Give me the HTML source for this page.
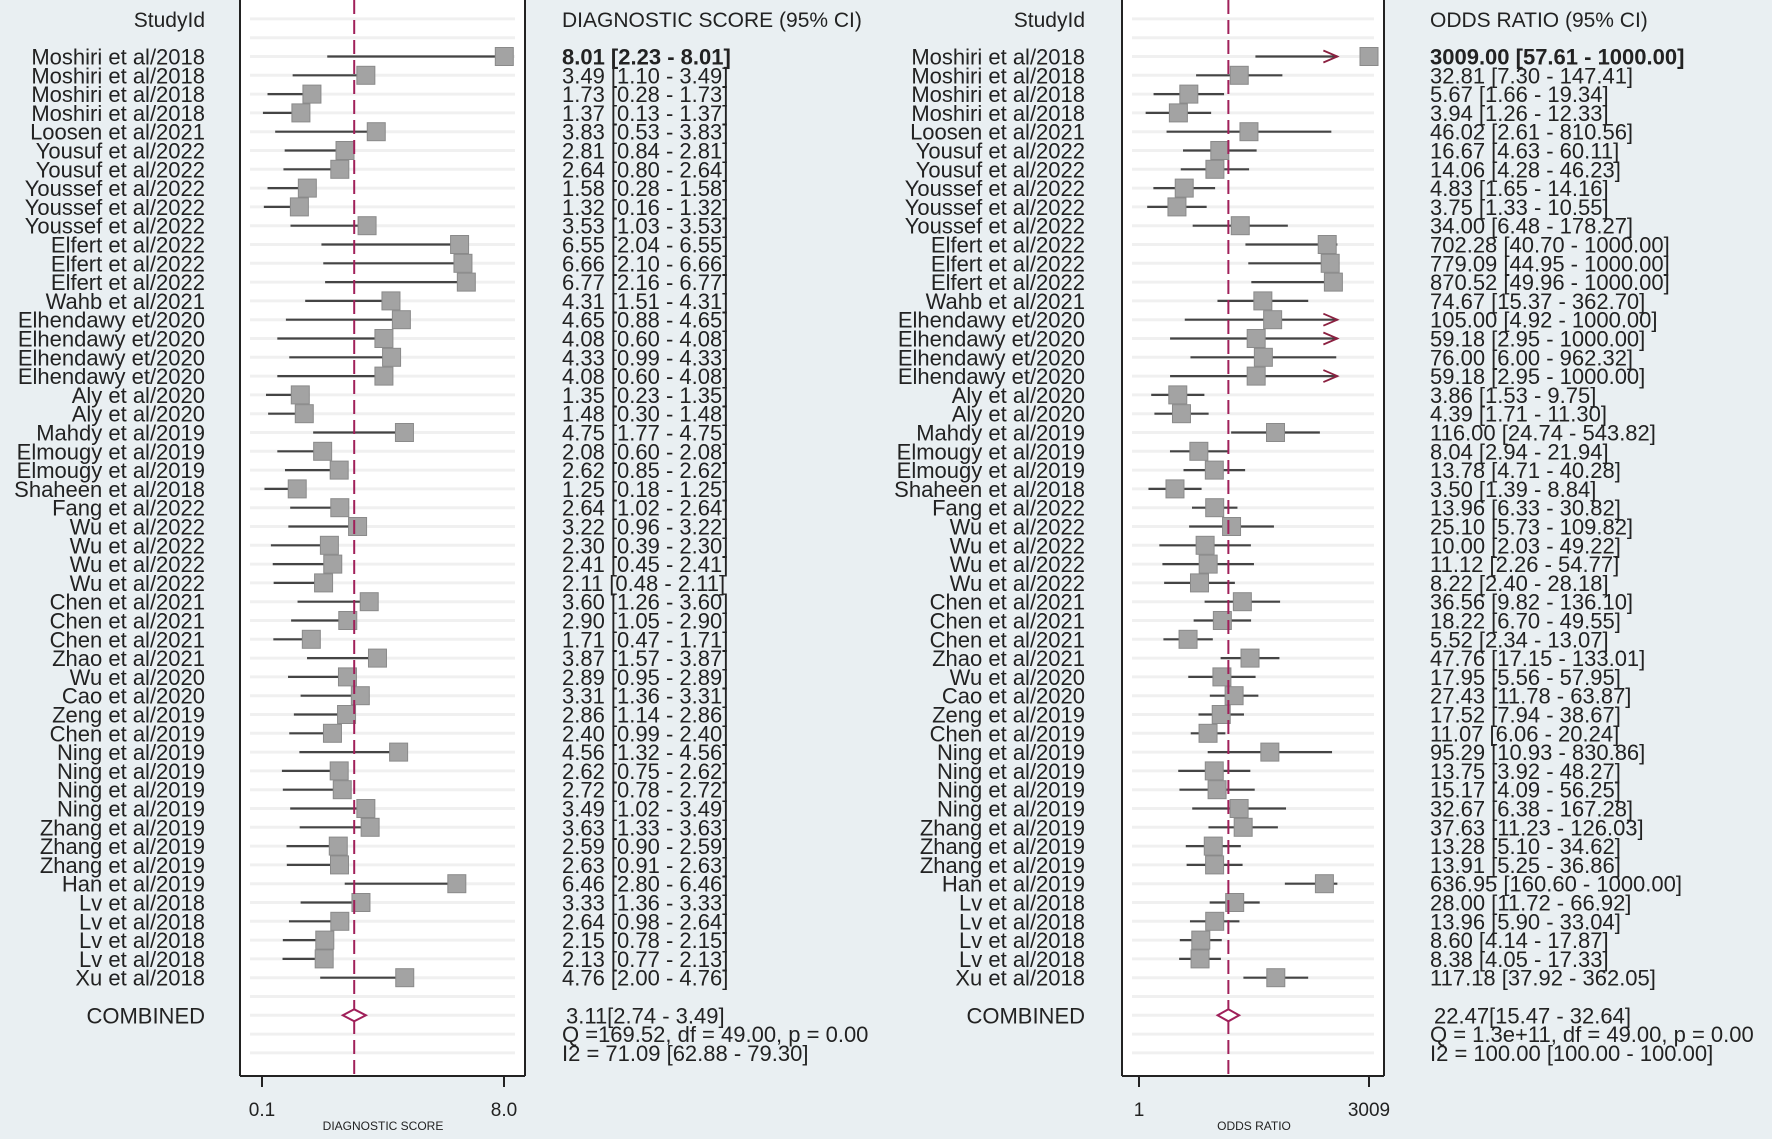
<!DOCTYPE html>
<html><head><meta charset="utf-8"><style>
html,body{margin:0;padding:0;background:#e9eff2}
svg{display:block}
text{font-family:"Liberation Sans",Arial,sans-serif;fill:#222}
</style></head><body>
<svg id="chart" width="1772" height="1139" viewBox="0 0 1772 1139" xmlns="http://www.w3.org/2000/svg">
<rect x="0" y="0" width="1772" height="1139" fill="#e9eff2"/>
</svg>
<script>
const studies=["Moshiri et al/2018","Moshiri et al/2018","Moshiri et al/2018","Moshiri et al/2018","Loosen et al/2021","Yousuf et al/2022","Yousuf et al/2022","Youssef et al/2022","Youssef et al/2022","Youssef et al/2022","Elfert et al/2022","Elfert et al/2022","Elfert et al/2022","Wahb et al/2021","Elhendawy et/2020","Elhendawy et/2020","Elhendawy et/2020","Elhendawy et/2020","Aly et al/2020","Aly et al/2020","Mahdy et al/2019","Elmougy et al/2019","Elmougy et al/2019","Shaheen et al/2018","Fang et al/2022","Wu et al/2022","Wu et al/2022","Wu et al/2022","Wu et al/2022","Chen et al/2021","Chen et al/2021","Chen et al/2021","Zhao et al/2021","Wu et al/2020","Cao et al/2020","Zeng et al/2019","Chen et al/2019","Ning et al/2019","Ning et al/2019","Ning et al/2019","Ning et al/2019","Zhang et al/2019","Zhang et al/2019","Zhang et al/2019","Han et al/2019","Lv et al/2018","Lv et al/2018","Lv et al/2018","Lv et al/2018","Xu et al/2018"];
const dsValue=[8.01,3.49,1.73,1.37,3.83,2.81,2.64,1.58,1.32,3.53,6.55,6.66,6.77,4.31,4.65,4.08,4.33,4.08,1.35,1.48,4.75,2.08,2.62,1.25,2.64,3.22,2.30,2.41,2.11,3.60,2.90,1.71,3.87,2.89,3.31,2.86,2.40,4.56,2.62,2.72,3.49,3.63,2.59,2.63,6.46,3.33,2.64,2.15,2.13,4.76];
const dsLower=[2.23,1.10,0.28,0.13,0.53,0.84,0.80,0.28,0.16,1.03,2.04,2.10,2.16,1.51,0.88,0.60,0.99,0.60,0.23,0.30,1.77,0.60,0.85,0.18,1.02,0.96,0.39,0.45,0.48,1.26,1.05,0.47,1.57,0.95,1.36,1.14,0.99,1.32,0.75,0.78,1.02,1.33,0.90,0.91,2.80,1.36,0.98,0.78,0.77,2.00];
const dsUpper=dsValue.slice();
const orValue=[3009.00,32.81,5.67,3.94,46.02,16.67,14.06,4.83,3.75,34.00,702.28,779.09,870.52,74.67,105.00,59.18,76.00,59.18,3.86,4.39,116.00,8.04,13.78,3.50,13.96,25.10,10.00,11.12,8.22,36.56,18.22,5.52,47.76,17.95,27.43,17.52,11.07,95.29,13.75,15.17,32.67,37.63,13.28,13.91,636.95,28.00,13.96,8.60,8.38,117.18];
const orLower=[57.61,7.30,1.66,1.26,2.61,4.63,4.28,1.65,1.33,6.48,40.70,44.95,49.96,15.37,4.92,2.95,6.00,2.95,1.53,1.71,24.74,2.94,4.71,1.39,6.33,5.73,2.03,2.26,2.40,9.82,6.70,2.34,17.15,5.56,11.78,7.94,6.06,10.93,3.92,4.09,6.38,11.23,5.10,5.25,160.60,11.72,5.90,4.14,4.05,37.92];
const orUpper=[1000,147.41,19.34,12.33,810.56,60.11,46.23,14.16,10.55,178.27,1000,1000,1000,362.70,1000,1000,962.32,1000,9.75,11.30,543.82,21.94,40.28,8.84,30.82,109.82,49.22,54.77,28.18,136.10,49.55,13.07,133.01,57.95,63.87,38.67,20.24,830.86,48.27,56.25,167.28,126.03,34.62,36.86,1000,66.92,33.04,17.87,17.33,362.05];
const orArrow=[1,0,0,0,0,0,0,0,0,0,0,0,0,0,1,1,0,1,0,0,0,0,0,0,0,0,0,0,0,0,0,0,0,0,0,0,0,0,0,0,0,0,0,0,0,0,0,0,0,0];
const dsCombined=[3.11,2.74,3.49];
const orCombined=[22.47,15.47,32.64];
const dsTicks=["0.1","8.0"];
const orTicks=["1","3009"];
const dsStats=["3.11[2.74 - 3.49]","Q =169.52, df = 49.00, p =  0.00","I2 = 71.09 [62.88 - 79.30]"];
const orStats=["22.47[15.47 - 32.64]","Q = 1.3e+11, df = 49.00, p =  0.00","I2 = 100.00 [100.00 - 100.00]"];

const svg=document.getElementById('chart');
const NS='http://www.w3.org/2000/svg';
const FS=22;
function mk(tag,attrs,parent){const e=document.createElementNS(NS,tag);for(const k in attrs)e.setAttribute(k,attrs[k]);(parent||svg).appendChild(e);return e;}
function txt(s,x,y,anchor,size,weight){const t=mk('text',{x:x,y:y,'text-anchor':anchor||'start','font-size':size||FS,'font-weight':weight||'normal'});t.textContent=s;return t;}
const rowY=i=>56.5+i*18.8;
const dsX=v=>262+(v-0.1)*(504-262)/7.9;
const orX=v=>1139+Math.log10(v)/Math.log10(3009)*230;
const f2=v=>v.toFixed(2);

function panel(x0,x1,name){
  const r=mk('rect',{x:x0,y:0,width:x1-x0,height:1076,fill:'#fff'});
  
  
  for(let i=-2;i<57;i++){const y=rowY(i);if(y<4||y>1068)continue;
    const g=mk('line',{x1:x0+10,x2:x1-10,y1:y,y2:y,stroke:'#f0f0f0','stroke-width':3});
    
    }
  const l=mk('line',{x1:x0,x2:x0,y1:0,y2:1076,stroke:'#222','stroke-width':2});
  
  
  const rr=mk('line',{x1:x1,x2:x1,y1:0,y2:1076,stroke:'#222','stroke-width':2});
  
  
  const b=mk('line',{x1:x0,x2:x1,y1:1076,y2:1076,stroke:'#222','stroke-width':2});
  
  
}
panel(240,525,'ds');
panel(1122,1384,'or');

function drawForest(values,lowers,uppers,xf,labelX,valX,header,arrows,combined,stats,ticks,tickVals,axisTitle,name){
  const h1=txt('StudyId',labelX,27,'end',FS-1);
  
  
  const h2=txt(header,valX,27,'start',FS-1);
  
  
  for(let i=0;i<values.length;i++){
    const y=rowY(i);
    const lab=txt(studies[i],labelX,y+8,'end');
    
    
    const hi=uppers[i];
    const ln=mk('line',{x1:xf(lowers[i]),x2:xf(hi),y1:y,y2:y,stroke:'#444','stroke-width':2.2});
    
    
    if(arrows&&arrows[i]){const ax=xf(hi);
      const ar=mk('polyline',{points:`${ax-14},${y-6} ${ax},${y} ${ax-14},${y+6}`,fill:'none',stroke:'#8b2040','stroke-width':1.8});
      
      }
    const cx=xf(values[i]);
    const bx=mk('rect',{x:cx-9,y:y-9,width:18,height:18,fill:'#a3a3a3',stroke:'#8a8a8a','stroke-width':1});
    
    
    const vt=txt(`${f2(values[i])} [${f2(lowers[i])} - ${f2(uppers[i])}]`,valX,y+8,'start',FS,i===0?'bold':'normal');
    
    
  }
  const cy=rowY(51);
  const dx=xf(combined[0]);
  const dash=mk('line',{x1:dx,x2:dx,y1:0,y2:1076,stroke:'#a0205a','stroke-width':2,'stroke-dasharray':'14,6'});
  
  
  const cl=txt('COMBINED',labelX,cy+8,'end');
  
  
  const lo=xf(combined[1]),hi=xf(combined[2]);
  const dm=mk('polygon',{points:`${lo},${cy} ${dx},${cy-6} ${hi},${cy} ${dx},${cy+6}`,fill:'#fff',stroke:'#a0205a','stroke-width':2});
  
  
  stats.forEach((s,k)=>{const t=txt(s,valX+(k===0?4:0),cy+8+k*18.8,'start');
    
    });
  ticks.forEach((s,k)=>{const tx=xf(tickVals[k]);
    const tk=mk('line',{x1:tx,x2:tx,y1:1076,y2:1087,stroke:'#222','stroke-width':2});
    
    
    const tl=txt(s,tx,1116,'middle',19);
    
    });
  const at=txt(axisTitle,(xf(tickVals[0])+xf(tickVals[1]))/2,1130,'middle',12);
  
  
}
drawForest(dsValue,dsLower,dsUpper,dsX,205,562,'DIAGNOSTIC SCORE (95% CI)',null,dsCombined,dsStats,dsTicks,[0.1,8.0],'DIAGNOSTIC SCORE','ds');
drawForest(orValue,orLower,orUpper,orX,1085,1430,'ODDS RATIO (95% CI)',orArrow,orCombined,orStats,orTicks,[1,3009],'ODDS RATIO','or');
</script>
</body></html>
